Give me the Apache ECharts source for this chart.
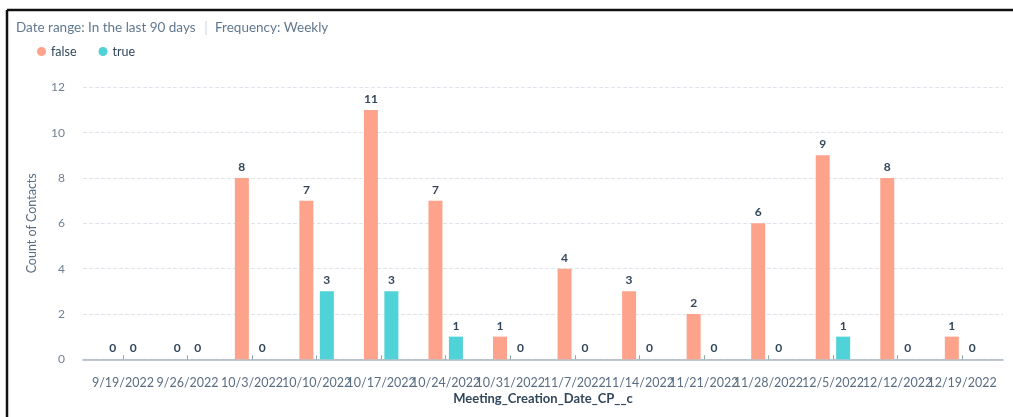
<!DOCTYPE html>
<html>
<head>
<meta charset="utf-8">
<script src="https://cdn.jsdelivr.net/npm/echarts@6/dist/echarts.min.js"></script>
<style>
html,body{margin:0;padding:0;background:#fff;}
#c{width:1013px;height:417px;}
</style>
</head>
<body>
<div id="c"></div>
<script>
const categories = ["9/19/2022","9/26/2022","10/3/2022","10/10/2022","10/17/2022","10/24/2022","10/31/2022","11/7/2022","11/14/2022","11/21/2022","11/28/2022","12/5/2022","12/12/2022","12/19/2022"];
const falseValues = [0,0,8,7,11,7,1,4,3,2,6,9,8,1];
const trueValues = [0,0,0,3,3,1,0,0,0,0,0,1,0,0];
const yTicks = [0,2,4,6,8,10,12];

const FONT = 'Lato, "Open Sans", sans-serif';
const chart = echarts.init(document.getElementById('c'), null, {renderer:'canvas'});

const labelStyle = {show:true, position:'top', distance:5, color:'#33475b', fontWeight:'bold', fontSize:12, fontFamily:FONT};
const headStyle = {fill:'#607890', fontSize:13.5, fontFamily:FONT, fontWeight:'normal'};

chart.setOption({
  animation:false,
  textStyle:{fontFamily:FONT},
  graphic:[
    {type:'line', shape:{x1:7, y1:10, x2:1013, y2:10}, style:{stroke:'#111', lineWidth:2.5}},
    {type:'line', shape:{x1:7, y1:10, x2:7, y2:417}, style:{stroke:'#111', lineWidth:2.5}},
    {type:'text', left:16, top:21, style:Object.assign({text:'Date range: In the last 90 days'}, headStyle)},
    {type:'rect', shape:{x:205.5, y:21, width:1, height:14}, style:{fill:'#cbd6e2'}},
    {type:'text', left:215, top:21, style:Object.assign({text:'Frequency: Weekly'}, headStyle)}
  ],
  legend:{
    left:32, top:40, icon:'circle', itemWidth:9, itemHeight:9, itemGap:22,
    textStyle:{color:'#33475b', fontSize:12.5, fontFamily:FONT},
    data:['false','true']
  },
  grid:[
    {left:83, right:10, top:87.3, bottom:57.7, containLabel:false},
    {left:90.7, right:18.7, top:87.3, bottom:57.7, containLabel:false}
  ],
  xAxis:[
    {
      gridIndex:0, type:'category', data:categories, boundaryGap:true,
      axisLine:{show:true, lineStyle:{color:'#aab4bf', width:1.5}},
      axisTick:{show:false}, axisLabel:{show:false}, splitLine:{show:false},
      name:'Meeting_Creation_Date_CP__c', nameLocation:'middle', nameGap:33,
      nameTextStyle:{color:'#33475b', fontWeight:'bold', fontSize:13, fontFamily:FONT}
    },
    {
      gridIndex:1, type:'category', data:categories, boundaryGap:true,
      axisLine:{show:false},
      axisTick:{show:true, inside:true, length:4, alignWithLabel:true, lineStyle:{color:'#8aa6a8'}},
      axisLabel:{interval:0, margin:17, color:'#5a6e82', fontSize:12.5, fontFamily:FONT},
      splitLine:{show:false}
    }
  ],
  yAxis:[
    {
      gridIndex:0, type:'value', min:0, max:12, interval:2,
      axisLine:{show:false}, axisTick:{show:false},
      axisLabel:{margin:18, color:'#6f8193', fontSize:12, fontFamily:FONT,
        formatter:v => yTicks.includes(v) ? String(v) : ''},
      splitLine:{show:true, lineStyle:{color:'#dfe3eb', type:'dashed', width:1}},
      name:'Count of Contacts', nameLocation:'middle', nameGap:45, nameRotate:90,
      nameTextStyle:{color:'#5a6e82', fontSize:12.5, fontFamily:FONT}
    },
    {
      gridIndex:1, type:'value', min:0, max:12, interval:2, show:false,
      splitLine:{show:false}
    }
  ],
  series:[
    {
      name:'false', type:'bar', xAxisIndex:1, yAxisIndex:1, data:falseValues,
      barWidth:14, barGap:'46%',
      itemStyle:{color:'#fea38b'},
      label:labelStyle
    },
    {
      name:'true', type:'bar', xAxisIndex:1, yAxisIndex:1, data:trueValues,
      barWidth:14, barGap:'46%',
      itemStyle:{color:'#4fd2d8'},
      label:labelStyle
    }
  ]
});
</script>
</body>
</html>
